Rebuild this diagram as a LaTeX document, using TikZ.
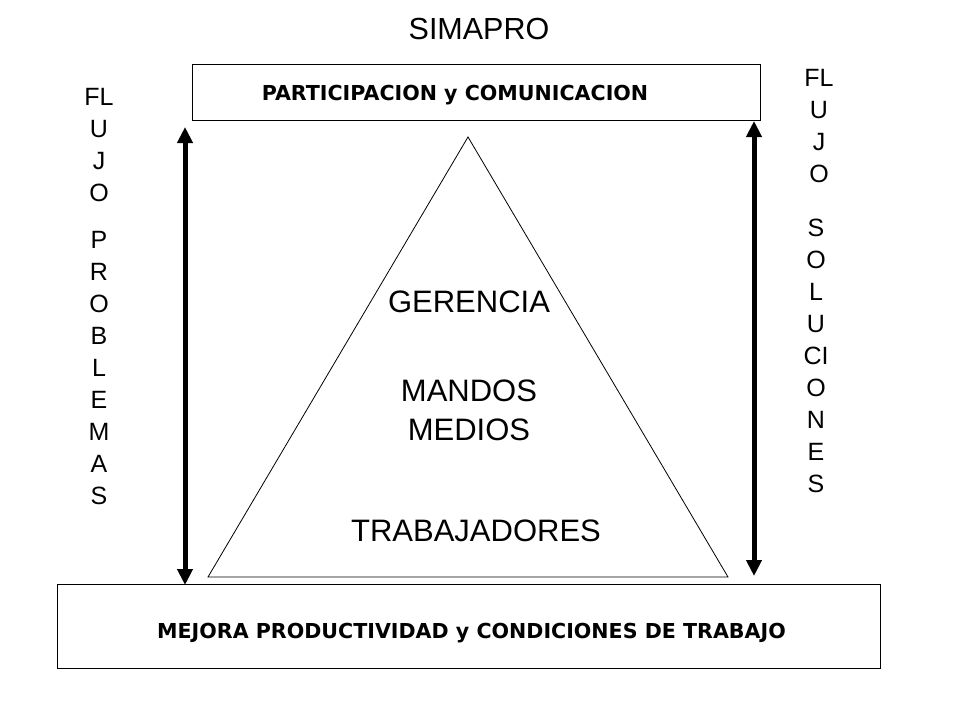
\documentclass[tikz,border=0pt]{standalone}
\usepackage{fontspec}
\setmainfont{Liberation Sans}
\newfontfamily\boxfont{DejaVu Sans}
\usetikzlibrary{arrows.meta}
\begin{document}
\begin{tikzpicture}[x=1pt,y=-1pt,
  boxnode/.style={draw=black,line width=1pt,inner sep=0pt,anchor=north west},
  boxtext/.style={font=\boxfont\bfseries\fontsize{20.6}{24}\selectfont},
  bigtext/.style={font=\fontsize{31}{39}\selectfont,align=center},
  vtext/.style={font=\fontsize{25}{32}\selectfont,align=center},
  flow/.style={line width=5pt,{Triangle[width=15pt,length=16pt]}-{Triangle[width=15pt,length=16pt]}},
  tri/.style={draw=black,line width=0.8pt}]
\useasboundingbox[fill=white] (0,0) rectangle (960,720);
\node[font=\fontsize{30.5}{36}\selectfont] (title) at (479,29) {SIMAPRO};
\node[boxnode,minimum width=568pt,minimum height=56pt] (top) at (192,64) {};
\node[boxtext] (toptext) at (455,95) {PARTICIPACION y COMUNICACION};
\node[boxnode,minimum width=823pt,minimum height=84pt] (bottom) at (57,584) {};
\node[boxtext] (bottomtext) at (471.5,633) {MEJORA PRODUCTIVIDAD y CONDICIONES DE TRABAJO};
\coordinate (apex) at (468,137);
\coordinate (bl) at (208,577);
\coordinate (br) at (728,577);
\draw[tri] (apex) -- (bl) -- (br) -- cycle;
\node[bigtext] (ger) at (469,302) {GERENCIA};
\node[bigtext] (mandos) at (469,410) {MANDOS\\MEDIOS};
\node[bigtext] (trab) at (476,531) {TRABAJADORES};
\coordinate (la) at (185,127);
\coordinate (lb) at (185,585);
\coordinate (ra) at (754,121);
\coordinate (rb) at (754,576);
\draw[flow] (la) -- (lb);
\draw[flow] (ra) -- (rb);
\node[vtext] (lflujo) at (99,145) {FL\\U\\J\\O};
\node[vtext] (lprob) at (99,368) {P\\R\\O\\B\\L\\E\\M\\A\\S};
\node[vtext] (rflujo) at (819,126) {FL\\U\\J\\O};
\node[vtext] (rsol) at (816,356) {S\\O\\L\\U\\CI\\O\\N\\E\\S};
\end{tikzpicture}
\end{document}
